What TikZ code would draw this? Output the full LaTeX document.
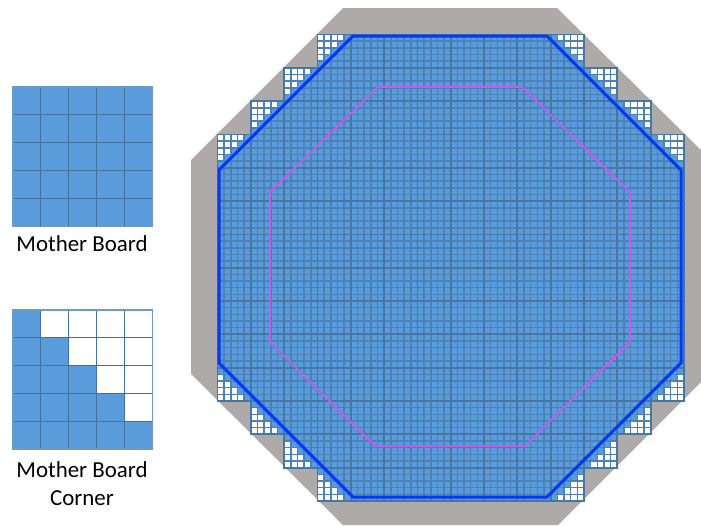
\documentclass[tikz,border=0pt]{standalone}
\usepackage{fontspec}
\setmainfont{Carlito}
\definecolor{cellblue}{HTML}{5A9BDC}
\definecolor{thinline}{HTML}{4A82B8}
\definecolor{boardline}{HTML}{4676A4}
\definecolor{wafergrey}{HTML}{AFAAAA}
\definecolor{edgeblue}{HTML}{0538F5}
\definecolor{innerpink}{HTML}{CC58E8}
\definecolor{bigline}{HTML}{41719C}
\definecolor{bigframe}{HTML}{6F9AC4}
\tikzset{
  wafer/.style={fill=wafergrey,draw=none},
  thincell/.style={draw=thinline,line width=1.5pt},
  boardframe/.style={draw=boardline,line width=1.8pt},
  edgeline/.style={draw=edgeblue,line width=3pt,line join=miter},
  innerline/.style={draw=innerpink,line width=1.7pt,line join=round},
  bigcell/.style={draw=bigline,line width=0.9pt},
  bigborder/.style={draw=bigframe,line width=1.2pt},
  caption/.style={font=\fontsize{22.9}{27.3}\selectfont,align=center,text=black,inner sep=0pt}
}
\begin{document}
\begin{tikzpicture}[x=1pt,y=-1pt]
\useasboundingbox (0,0) rectangle (701,525);
\fill[wafer] (343,8) -- (557,8) -- (701,150) -- (701,382) -- (558,525) -- (343,525) -- (191,374) -- (191,160) -- cycle;
\def\pitch{33.32}
\def\cell{6.664}
\foreach \col in {0,...,13}{
  \foreach \row in {0,...,13}{
    \pgfmathtruncatemacro{\depth}{min(\col,13-\col)+min(\row,13-\row)}
    \ifnum\depth>2
      \pgfmathsetmacro{\bx}{217.5+\col*\pitch}
      \pgfmathsetmacro{\by}{34.5+\row*\pitch}
      \fill[cellblue] (\bx,\by) rectangle ++(\pitch,\pitch);
      \ifnum\depth=3
        \foreach \i in {0,...,4}{
          \foreach \j in {0,...,4}{
            \pgfmathtruncatemacro{\ii}{\col<7 ? \i : 4-\i}
            \pgfmathtruncatemacro{\jj}{\row<7 ? \j : 4-\j}
            \pgfmathtruncatemacro{\s}{\ii+\jj}
            \ifnum\s<4
              \fill[white] ({\bx+\i*\cell},{\by+\j*\cell}) rectangle ++(\cell,\cell);
            \fi
          }
        }
      \fi
      \foreach \k in {1,...,4}{
        \draw[thincell] ({\bx+\k*\cell},\by) -- ++(0,\pitch);
        \draw[thincell] (\bx,{\by+\k*\cell}) -- ++(\pitch,0);
      }
      \draw[boardframe] (\bx,\by) rectangle ++(\pitch,\pitch);
    \fi
  }
}
\draw[innerline] (378,87) -- (522,87) -- (630,192) -- (630,342) -- (525,446) -- (375,446) -- (270,342) -- (270,192) -- cycle;
\draw[edgeline] (353,36) -- (547,36) -- (681,170) -- (681,363) -- (547,497) -- (353,497) -- (219,363) -- (219,170) -- cycle;
% left boards
\def\big{27.9}
\fill[cellblue] (13,87) rectangle ++(139.5,139.5);
\foreach \k in {1,...,4}{
  \draw[bigcell] ({13+\k*\big},87) -- ++(0,139.5);
  \draw[bigcell] (13,{87+\k*\big}) -- ++(139.5,0);
}
\draw[bigborder] (13,87) rectangle ++(139.5,139.5);
\fill[cellblue] (13,310) rectangle ++(139.5,139);
\foreach \i/\j in {1/0,2/0,3/0,4/0,2/1,3/1,4/1,3/2,4/2,4/3}{
  \fill[white] ({13+\i*\big},{310+\j*27.8}) rectangle ++(\big,27.8);
}
\foreach \k in {1,...,4}{
  \draw[bigcell] ({13+\k*\big},310) -- ++(0,139);
  \draw[bigcell] (13,{310+\k*27.8}) -- ++(139.5,0);
}
\draw[bigborder] (13,310) rectangle ++(139.5,139);
\node[caption] (boardlabel) at (82,244) {Mother Board};
\node[caption] (cornerlabel) at (82,483.5) {Mother Board\\Corner};
\end{tikzpicture}
\end{document}
